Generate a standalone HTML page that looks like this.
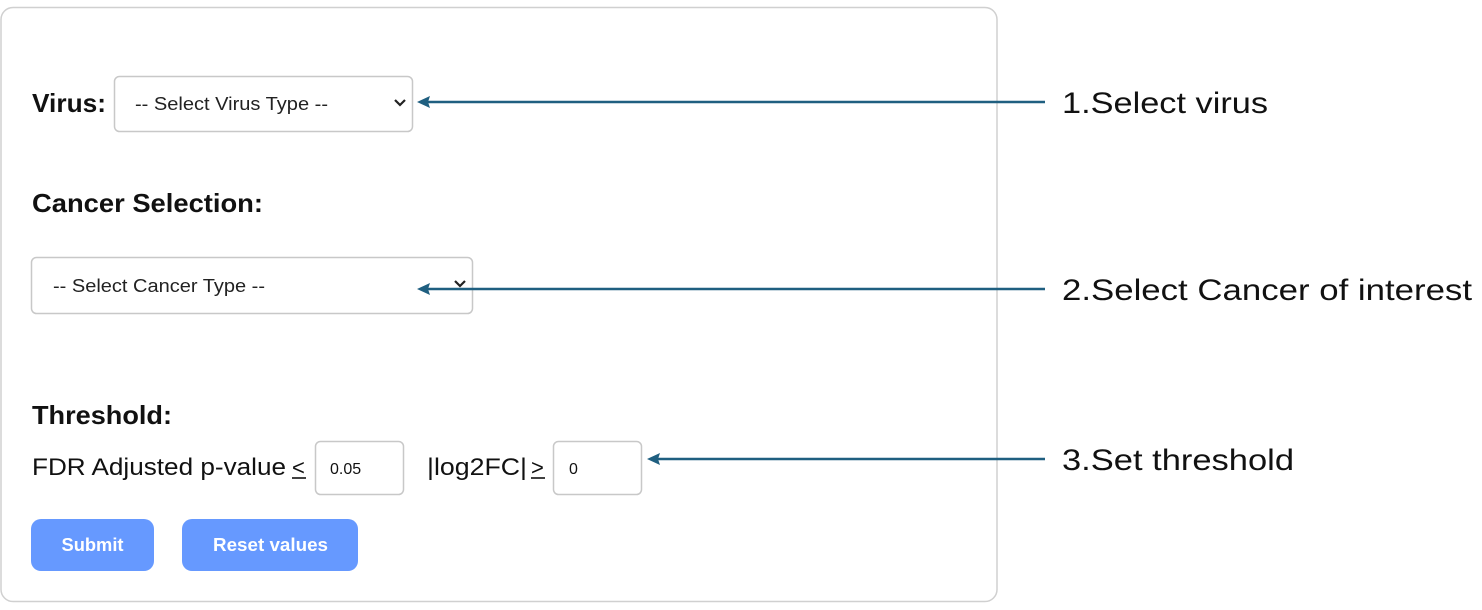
<!DOCTYPE html>
<html><head><meta charset="utf-8"><style>
html,body{margin:0;padding:0;background:#fff;width:1482px;height:610px;overflow:hidden}
svg{display:block}
text{font-family:"Liberation Sans",sans-serif}
</style></head><body>
<svg width="1482" height="610" viewBox="0 0 1482 610" xmlns="http://www.w3.org/2000/svg">
<rect x="1" y="7.5" width="996" height="594" rx="12" fill="#fff" stroke="#d0d0d0" stroke-width="1.5"/>

<text x="32" y="112" font-size="26" font-weight="bold" fill="#111" textLength="74" lengthAdjust="spacingAndGlyphs">Virus:</text>
<rect x="114.5" y="76.5" width="298" height="55" rx="5" fill="#fff" stroke="#c8c8c8" stroke-width="1.5"/>
<text x="135" y="110" font-size="18" fill="#222" textLength="193" lengthAdjust="spacingAndGlyphs">-- Select Virus Type --</text>
<path d="M395,100 l5,5 l5,-5" fill="none" stroke="#222" stroke-width="2.2"/>

<text x="32" y="212" font-size="26" font-weight="bold" fill="#111" textLength="231" lengthAdjust="spacingAndGlyphs">Cancer Selection:</text>
<rect x="31.5" y="257.5" width="441" height="56" rx="5" fill="#fff" stroke="#c8c8c8" stroke-width="1.5"/>
<text x="53" y="292" font-size="18" fill="#222" textLength="212" lengthAdjust="spacingAndGlyphs">-- Select Cancer Type --</text>
<path d="M455,281 l5,5 l5,-5" fill="none" stroke="#222" stroke-width="2.2"/>

<text x="32" y="424" font-size="26" font-weight="bold" fill="#111" textLength="140" lengthAdjust="spacingAndGlyphs">Threshold:</text>
<text x="32" y="475" font-size="24" fill="#111" textLength="254" lengthAdjust="spacingAndGlyphs">FDR Adjusted p-value</text>
<text x="292" y="475" font-size="22" fill="#111">&lt;</text>
<line x1="292" y1="478" x2="306" y2="478" stroke="#111" stroke-width="1.6"/>
<rect x="315.5" y="441.5" width="88" height="53" rx="5" fill="#fff" stroke="#c8c8c8" stroke-width="1.5"/>
<text x="330" y="474" font-size="16" fill="#111">0.05</text>
<text x="427" y="475" font-size="24" fill="#111" textLength="100" lengthAdjust="spacingAndGlyphs">|log2FC|</text>
<text x="531" y="475" font-size="22" fill="#111">&gt;</text>
<line x1="531" y1="478" x2="545" y2="478" stroke="#111" stroke-width="1.6"/>
<rect x="553.5" y="441.5" width="88" height="53" rx="5" fill="#fff" stroke="#c8c8c8" stroke-width="1.5"/>
<text x="569" y="474" font-size="16" fill="#111">0</text>

<rect x="31" y="519" width="123" height="52" rx="10" fill="#6699ff"/>
<text x="92.5" y="551" font-size="18" font-weight="bold" fill="#fff" text-anchor="middle" textLength="62" lengthAdjust="spacingAndGlyphs">Submit</text>
<rect x="182" y="519" width="176" height="52" rx="10" fill="#6699ff"/>
<text x="270.5" y="551" font-size="18" font-weight="bold" fill="#fff" text-anchor="middle" textLength="115" lengthAdjust="spacingAndGlyphs">Reset values</text>

<line x1="1045" y1="102" x2="428" y2="102" stroke="#1f5f80" stroke-width="2.5"/>
<path d="M417,102 L430,96 L428,102 L430,108 Z" fill="#1f5f80"/>
<line x1="1045" y1="289" x2="428" y2="289" stroke="#1f5f80" stroke-width="2.5"/>
<path d="M417,289 L430,283 L428,289 L430,295 Z" fill="#1f5f80"/>
<line x1="1045" y1="459" x2="658" y2="459" stroke="#1f5f80" stroke-width="2.5"/>
<path d="M647,459 L660,453 L658,459 L660,465 Z" fill="#1f5f80"/>

<text x="1062" y="113" font-size="30" fill="#111" textLength="206" lengthAdjust="spacingAndGlyphs">1.Select virus</text>
<text x="1062" y="300" font-size="30" fill="#111" textLength="410" lengthAdjust="spacingAndGlyphs">2.Select Cancer of interest</text>
<text x="1062" y="470" font-size="30" fill="#111" textLength="232" lengthAdjust="spacingAndGlyphs">3.Set threshold</text>
</svg>
</body></html>
